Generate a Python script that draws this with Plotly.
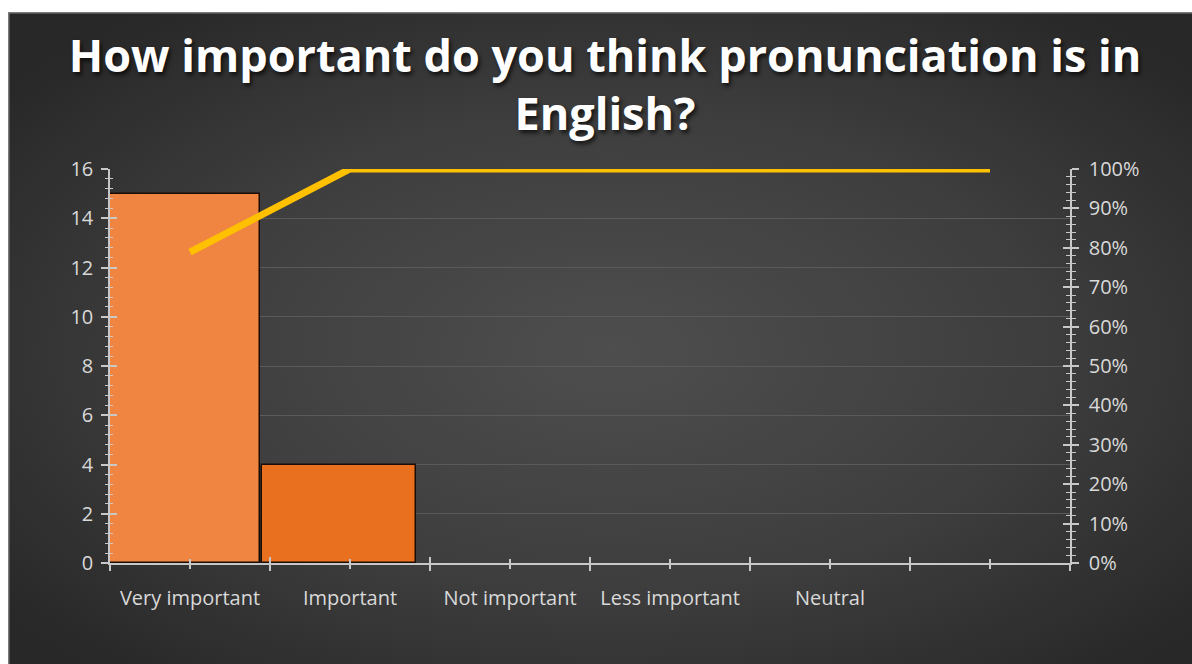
import base64
import plotly.graph_objects as go

# ---- data ----
categories = ["Very important", "Important", "Not important", "Less important", "Neutral", ""]
counts = [15, 4, 0, 0, 0, 0]
cumulative_pct = [0.789, 1.0, 1.0, 1.0, 1.0, 1.0]
left_ticks = [0, 2, 4, 6, 8, 10, 12, 14, 16]
right_ticks = [0, 0.1, 0.2, 0.3, 0.4, 0.5, 0.6, 0.7, 0.8, 0.9, 1.0]

positions = list(range(len(categories)))

W, H = 1192, 664
ML, MR, MT, MB = 110, 122, 169, 101
PW, PH = W - ML - MR, H - MT - MB

def px_to_paper_x(px):
    return (px - ML) / PW

def px_to_paper_y(py):
    return (H - MB - py) / PH

# dark panel (starts at x=8, y=12) with radial gradient, as an SVG image
BX, BY = 8, 12
BW, BH = W - BX, H - BY
svg = (
    f'<svg xmlns="http://www.w3.org/2000/svg" width="{BW}" height="{BH}" viewBox="0 0 {BW} {BH}" preserveAspectRatio="none">'
    '<defs><radialGradient id="g" cx="51%" cy="52%" r="65%">'
    '<stop offset="0" stop-color="#4e4e4e"/><stop offset="0.55" stop-color="#3e3e3e"/>'
    '<stop offset="1" stop-color="#282828"/></radialGradient></defs>'
    f'<rect x="0" y="0" width="{BW}" height="{BH}" fill="url(#g)"/>'
    f'<path d="M0.75 {BH} L0.75 0.75 L{BW} 0.75" fill="none" stroke="#7a7a7a" stroke-width="1.5"/>'
    '</svg>'
)
bg_src = "data:image/svg+xml;base64," + base64.b64encode(svg.encode()).decode()

fig = go.Figure()

fig.add_trace(go.Bar(
    x=positions[:2], y=counts[:2],
    width=[0.94, 0.96], offset=[-0.5, -0.55],
    marker=dict(color=["#ef8540", "#e8701f"], line=dict(color="#1a0d05", width=1.5)),
    showlegend=False, hoverinfo="skip",
))

fig.add_trace(go.Scatter(
    x=positions, y=cumulative_pct, yaxis="y2", mode="lines",
    line=dict(color="#ffc000", width=7), cliponaxis=False,
    showlegend=False, hoverinfo="skip",
))

# dummy traces for overlay axes (inside halves of cross ticks)
fig.add_trace(go.Scatter(x=[], y=[], xaxis="x2", yaxis="y", showlegend=False))
fig.add_trace(go.Scatter(x=[], y=[], xaxis="x", yaxis="y3", showlegend=False))
fig.add_trace(go.Scatter(x=[], y=[], xaxis="x", yaxis="y4", showlegend=False))

tick_font = dict(family="Open Sans", size=20, color="#d9d9d9")
axcol = "#c8c8c8"

fig.update_layout(
    width=W, height=H,
    margin=dict(l=ML, r=MR, t=MT, b=MB, autoexpand=False),
    paper_bgcolor="white",
    plot_bgcolor="rgba(0,0,0,0)",
    title=dict(
        text="How important do you think pronunciation is in<br>English?",
        font=dict(family="Open Sans", size=45, color="white", weight="bold",
                  shadow="2px 3px 4px rgba(0,0,0,0.7)"),
        x=605 / W, xref="container", xanchor="center",
        y=1 - 71.5 / H, yref="container", yanchor="middle",
    ),
    bargap=0,
    xaxis=dict(
        range=[-0.5, 5.5], tickvals=positions, ticktext=categories,
        ticks="outside", ticklen=4, tickwidth=1.5, tickcolor=axcol,
        minor=dict(tick0=-0.5, dtick=1, ticks="outside", ticklen=6, tickwidth=1.5, tickcolor=axcol),
        showline=True, linecolor=axcol, linewidth=1.5,
        showgrid=False, zeroline=False,
        tickfont=tick_font, ticklabelstandoff=12, automargin=False,
    ),
    xaxis2=dict(
        range=[-0.5, 5.5], overlaying="x", anchor="y", side="bottom",
        tickvals=positions, ticks="inside", ticklen=4, tickwidth=1.5, tickcolor=axcol,
        minor=dict(tick0=-0.5, dtick=1, ticks="inside", ticklen=6, tickwidth=1.5, tickcolor=axcol),
        showticklabels=False, showline=False, showgrid=False, zeroline=False,
    ),
    yaxis=dict(
        range=[0, 16], tickvals=left_ticks,
        ticks="outside", ticklen=7, tickwidth=1.5, tickcolor=axcol,
        minor=dict(dtick=0.4, ticks="outside", ticklen=3, tickwidth=1, tickcolor=axcol),
        showline=True, linecolor=axcol, linewidth=1.5,
        showgrid=True, gridcolor="#5a5a5a", gridwidth=1, zeroline=False,
        tickfont=tick_font, ticklabelstandoff=4, automargin=False,
    ),
    yaxis3=dict(
        range=[0, 16], overlaying="y", anchor="x", side="left", tickvals=left_ticks,
        ticks="inside", ticklen=7, tickwidth=1.5, tickcolor=axcol,
        minor=dict(dtick=0.4, ticks="inside", ticklen=3, tickwidth=1, tickcolor=axcol),
        showticklabels=False, showline=False, showgrid=False, zeroline=False,
    ),
    yaxis2=dict(
        range=[0, 1], overlaying="y", anchor="x", side="right", tickvals=right_ticks,
        tickformat=".0%",
        ticks="outside", ticklen=7, tickwidth=1.5, tickcolor=axcol,
        minor=dict(dtick=0.02, ticks="outside", ticklen=4, tickwidth=1, tickcolor=axcol),
        showline=True, linecolor=axcol, linewidth=1.5,
        showgrid=False, zeroline=False,
        tickfont=tick_font, ticklabelstandoff=6, automargin=False,
    ),
    yaxis4=dict(
        range=[0, 1], overlaying="y", anchor="x", side="right", tickvals=right_ticks,
        ticks="inside", ticklen=7, tickwidth=1.5, tickcolor=axcol,
        minor=dict(dtick=0.02, ticks="inside", ticklen=4, tickwidth=1, tickcolor=axcol),
        showticklabels=False, showline=False, showgrid=False, zeroline=False,
    ),
    images=[dict(
        source=bg_src, xref="paper", yref="paper",
        x=px_to_paper_x(BX), y=px_to_paper_y(BY),
        sizex=BW / PW, sizey=BH / PH,
        xanchor="left", yanchor="top", sizing="stretch", layer="below",
    )],
)

fig.write_html(
    "out.html",
    config={"displayModeBar": False},
    post_script="document.body.style.margin='0';document.body.style.overflow='hidden';",
)
